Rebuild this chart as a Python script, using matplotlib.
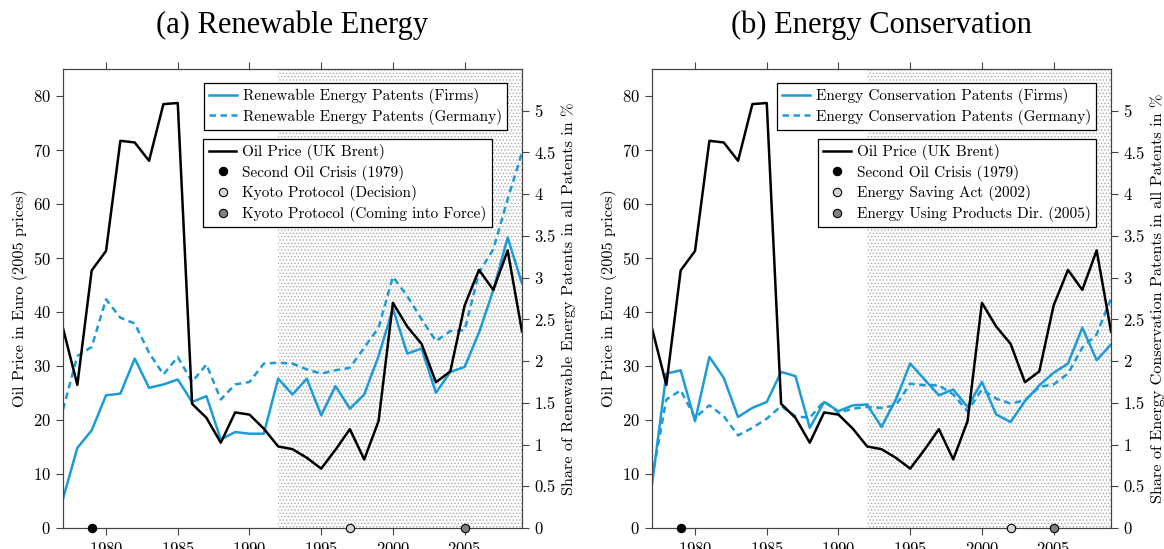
import matplotlib
matplotlib.use('Agg')
import matplotlib.pyplot as plt
from matplotlib.lines import Line2D
from matplotlib.ticker import FuncFormatter

plt.rcParams['font.family'] = 'cmr10'
plt.rcParams['axes.formatter.use_mathtext'] = True
plt.rcParams['hatch.linewidth'] = 0.6

years = list(range(1977, 2010))

oil_price = [37.0, 26.5, 47.7, 51.3, 71.7, 71.4, 68.0, 78.5, 78.7, 23.0,
             20.4, 15.8, 21.4, 21.0, 18.4, 15.1, 14.6, 13.0, 11.0, 14.5,
             18.3, 12.7, 19.8, 41.7, 37.3, 34.1, 27.0, 29.0, 41.2, 47.8,
             44.1, 51.4, 36.4]

renew_firms = [0.35, 0.96, 1.17, 1.59, 1.61, 2.03, 1.68, 1.72, 1.78, 1.51,
               1.58, 1.06, 1.15, 1.13, 1.13, 1.79, 1.60, 1.79, 1.35, 1.70,
               1.43, 1.60, 2.06, 2.63, 2.09, 2.15, 1.62, 1.87, 1.93, 2.34,
               2.85, 3.48, 2.93]

renew_germany = [1.42, 2.06, 2.17, 2.74, 2.52, 2.45, 2.10, 1.84, 2.05, 1.75,
                 1.96, 1.54, 1.72, 1.75, 1.97, 1.98, 1.97, 1.90, 1.85, 1.89,
                 1.92, 2.16, 2.40, 3.01, 2.78, 2.50, 2.24, 2.36, 2.37, 3.06,
                 3.34, 3.94, 4.50]

cons_firms = [0.52, 1.85, 1.89, 1.28, 2.05, 1.80, 1.33, 1.44, 1.51, 1.87,
              1.82, 1.20, 1.51, 1.40, 1.47, 1.48, 1.21, 1.54, 1.97, 1.78,
              1.59, 1.66, 1.45, 1.75, 1.36, 1.27, 1.52, 1.71, 1.86, 1.97,
              2.40, 2.01, 2.20]

cons_germany = [0.60, 1.54, 1.65, 1.32, 1.47, 1.34, 1.11, 1.20, 1.31, 1.46,
                1.34, 1.32, 1.52, 1.38, 1.43, 1.45, 1.44, 1.47, 1.73, 1.71,
                1.71, 1.60, 1.40, 1.66, 1.55, 1.49, 1.53, 1.69, 1.72, 1.85,
                2.16, 2.32, 2.75]

events_a = [1979, 1997, 2005]
events_a_labels = ['Second Oil Crisis (1979)', 'Kyoto Protocol (Decision)',
                   'Kyoto Protocol (Coming into Force)']
events_b = [1979, 2002, 2005]
events_b_labels = ['Second Oil Crisis (1979)', 'Energy Saving Act (2002)',
                   'Energy Using Products Dir. (2005)']
event_colors = ['black', '#d4d4d4', '#808080']

BLUE = '#1b9bd7'
SPINE = '#444444'
FS = 11


def plot_panel(fig, rect, title, firms, germany, name, events, event_labels, ylabel):
    ax = fig.add_axes(rect)
    ax2 = ax.twinx()
    ax.set_zorder(ax2.get_zorder() + 1)
    ax.patch.set_visible(False)

    # shaded period from 1992 onwards
    ax2.axvspan(1992, 2009, facecolor='white', edgecolor='#aaaaaa',
                hatch='.....', lw=0, zorder=0)
    ax2.plot(years, firms, color=BLUE, lw=1.8)
    ax2.plot(years, germany, color=BLUE, lw=1.8, dashes=(2.6, 1.8))
    ax.plot(years, oil_price, color='black', lw=1.8)
    for yr, col in zip(events, event_colors):
        ax.plot([yr], [0], 'o', color=col, mec='black', mew=0.8, ms=6,
                clip_on=False, zorder=10)

    ax.set_xlim(1977, 2009)
    ax.set_ylim(0, 85)
    ax2.set_ylim(0, 5.5)
    ax.set_xticks(range(1980, 2010, 5))
    ax.set_yticks(range(0, 90, 10))
    ax2.set_yticks([i * 0.5 for i in range(11)])
    ax2.yaxis.set_major_formatter(FuncFormatter(lambda v, p: f'{v:g}'))

    for a in (ax, ax2):
        for s in a.spines.values():
            s.set_color(SPINE)
        a.tick_params(direction='out', length=5, width=0.8, color=SPINE,
                      labelsize=12, pad=4)
    ax.tick_params(axis='x', top=True)

    ax.set_ylabel('Oil Price in Euro (2005 prices)', fontsize=11.7, labelpad=3)
    ax2.set_ylabel(ylabel, fontsize=11.7, labelpad=4)

    h1 = [Line2D([], [], color=BLUE, lw=1.8),
          Line2D([], [], color=BLUE, lw=1.8, dashes=(2.6, 1.8))]
    l1 = [f'{name} Patents (Firms)', f'{name} Patents (Germany)']
    leg1 = ax.legend(h1, l1, loc='upper right', bbox_to_anchor=(0.968, 0.97),
                     borderaxespad=0, fancybox=False, framealpha=1,
                     edgecolor='black', fontsize=FS, handlelength=1.8,
                     handletextpad=0.4, labelspacing=0.3, borderpad=0.35)
    leg1.get_frame().set_linewidth(0.9)
    ax.add_artist(leg1)

    h2 = [Line2D([], [], color='black', lw=1.8)]
    for col in event_colors:
        h2.append(Line2D([], [], ls='none', marker='o', color=col, mec='black',
                         mew=0.8, ms=6))
    l2 = ['Oil Price (UK Brent)'] + event_labels
    x2 = 0.935 if name.startswith('Renew') else 0.968
    leg2 = ax.legend(h2, l2, loc='upper right', bbox_to_anchor=(x2, 0.848),
                     borderaxespad=0, fancybox=False, framealpha=1,
                     edgecolor='black', fontsize=FS, handlelength=1.8,
                     handletextpad=0.4, labelspacing=0.3, borderpad=0.35)
    leg2.get_frame().set_linewidth(0.9)

    cx = rect[0] + rect[2] / 2
    fig.text(cx, 1 - 25 / 549, title, ha='center', va='center',
             fontsize=22, family='Liberation Serif')


fig = plt.figure(figsize=(11.64, 5.49), dpi=100)
plot_panel(fig, [63 / 1164, 21 / 549, 459 / 1164, 459 / 549],
           '(a) Renewable Energy', renew_firms, renew_germany,
           'Renewable Energy', events_a, events_a_labels,
           'Share of Renewable Energy Patents in all Patents in %')
plot_panel(fig, [652 / 1164, 21 / 549, 459 / 1164, 459 / 549],
           '(b) Energy Conservation', cons_firms, cons_germany,
           'Energy Conservation', events_b, events_b_labels,
           'Share of Energy Conservation Patents in all Patents in %')

plt.savefig('out.png', dpi=100)
